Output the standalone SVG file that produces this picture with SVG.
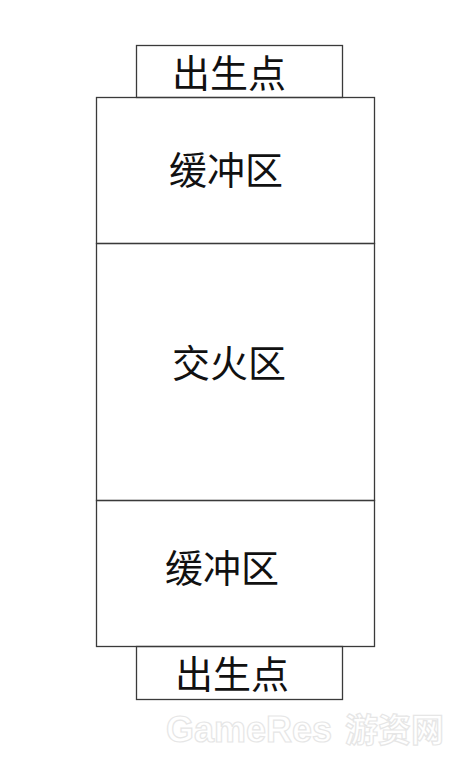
<svg xmlns="http://www.w3.org/2000/svg" width="474" height="761" viewBox="0 0 474 761">
<defs>
<style>
.box{fill:none;stroke:#3a3a3a;stroke-width:1.3}
.lbl{font-family:"Noto Sans CJK SC","Noto Sans",sans-serif;font-size:38px;fill:#111;text-anchor:middle;dominant-baseline:central}
.wm{font-family:"Liberation Sans","Noto Sans CJK SC",sans-serif;font-weight:bold;fill:#ffffff;stroke:#e6e6e6;stroke-width:1.2}
</style>
</defs>
<rect width="474" height="761" fill="#ffffff"/>
<g id="spawn-top">
<rect class="box" x="136.5" y="45.5" width="206" height="52"/>
<text class="lbl" x="229" y="70">出生点</text>
</g>
<g id="buffer-top">
<rect class="box" x="96.5" y="97.5" width="278" height="146"/>
<text class="lbl" x="226" y="167">缓冲区</text>
</g>
<g id="fire-zone">
<rect class="box" x="96.5" y="243.5" width="278" height="257"/>
<text class="lbl" x="229" y="360">交火区</text>
</g>
<g id="buffer-bottom">
<rect class="box" x="96.5" y="500.5" width="278" height="146"/>
<text class="lbl" x="222" y="565">缓冲区</text>
</g>
<g id="spawn-bottom">
<rect class="box" x="136.5" y="646.5" width="206" height="53"/>
<text class="lbl" x="232" y="671">出生点</text>
</g>
<g id="connectors"></g>
<g id="watermark">
<text class="wm" x="166" y="742" font-size="36" textLength="166" lengthAdjust="spacingAndGlyphs">GameRes</text>
<text class="wm" x="345" y="742" font-size="33" style="font-family:'Noto Sans CJK SC',sans-serif">游资网</text>
</g>
</svg>
